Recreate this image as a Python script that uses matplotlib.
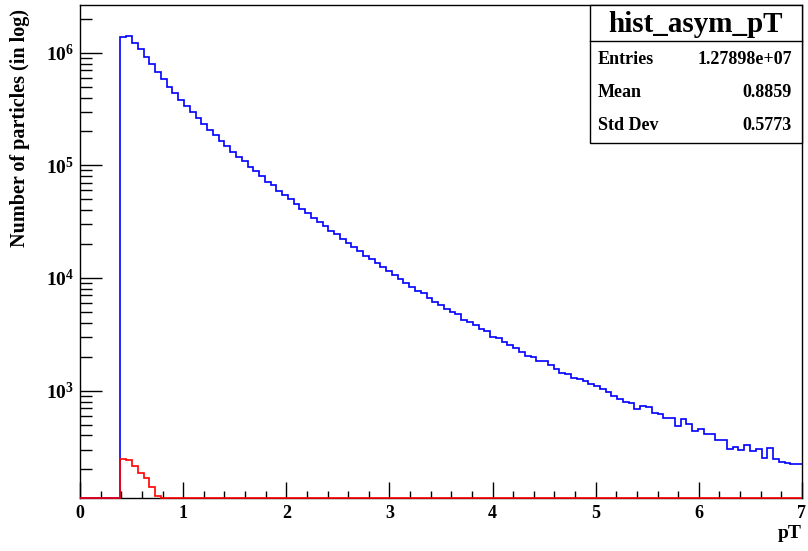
import matplotlib

matplotlib.use("Agg")
import matplotlib.pyplot as plt  # noqa: E402
import numpy as np  # noqa: E402
from matplotlib.patches import Rectangle  # noqa: E402
from matplotlib.ticker import LogLocator, MultipleLocator, NullFormatter  # noqa: E402

# histogram binning: 125 bins over 0..7, filled bins start at bin 7
N_BINS = 125
X_RANGE = (0.0, 7.0)
FIRST_BIN = 7

# bin contents (log y)
blue_counts = [
    1369000, 1407000, 1228000, 1079000, 922000, 788000, 678000, 584000, 499000, 442000,
    383000, 336000, 295000, 261000, 231000, 206000, 186000, 165000, 148000, 132000,
    119000, 110000, 97200, 89600, 80400, 71500, 66800, 59500, 54500, 49900,
    45300, 40900, 37500, 34300, 31600, 28900, 26300, 24400, 22000, 20300,
    18700, 17400, 15600, 14600, 13700, 12400, 11500, 10600, 9780, 8950,
    8360, 7700, 7300, 6580, 6150, 5750, 5260, 5030,
    4780, 4230, 4030, 3820, 3520, 3380, 3010, 2950, 2720, 2540,
    2400, 2210, 2030, 2000, 1830, 1830, 1690, 1550, 1440, 1400,
    1300, 1265, 1214, 1134, 1104, 1024, 963, 894, 835, 785,
    769, 685, 729, 709, 636, 618, 574, 574, 487, 554,
    504, 437, 452, 408, 408, 363, 363, 302, 317, 296,
    328, 290, 302, 250, 310, 245, 233, 229, 221, 221,
]
red_counts = [245, 240, 214, 186, 166, 140, 116]

stats_title = "hist_asym_pT"
stats_labels = ["Entries", "Mean", "Std Dev"]
stats_values = ["1.27898e+07", "0.8859", "0.5773"]

Y_MIN, Y_MAX = 112, 2.65e6

plt.rcParams["font.family"] = ["Liberation Serif", "DejaVu Serif"]
plt.rcParams["font.weight"] = "bold"
plt.rcParams["mathtext.fontset"] = "custom"
plt.rcParams["mathtext.rm"] = "Liberation Serif:bold"
plt.rcParams["mathtext.bf"] = "Liberation Serif:bold"
plt.rcParams["mathtext.it"] = "Liberation Serif:bold:italic"


def full_hist(counts):
    h = np.zeros(N_BINS)
    h[FIRST_BIN:FIRST_BIN + len(counts)] = counts
    # ROOT draws empty bins along the bottom of the frame
    return np.maximum(h, Y_MIN)


edges = np.linspace(X_RANGE[0], X_RANGE[1], N_BINS + 1)

W, H = 808, 551
fig = plt.figure(figsize=(W / 100, H / 100), dpi=100)
ax = fig.add_axes([80 / W, 1 - 497.7 / H, 722 / W, 492.7 / H])

ax.stairs(full_hist(blue_counts), edges, baseline=None, color="#0000ff",
          linewidth=1.2, clip_on=False, zorder=3)
ax.stairs(full_hist(red_counts), edges, baseline=None, color="#ff0000",
          linewidth=1.2, clip_on=False, zorder=4)

ax.set_yscale("log")
ax.set_xlim(*X_RANGE)
ax.set_ylim(Y_MIN, Y_MAX)

ax.xaxis.set_major_locator(MultipleLocator(1))
ax.xaxis.set_minor_locator(MultipleLocator(0.2))
ax.yaxis.set_major_locator(LogLocator(base=10))
ax.yaxis.set_minor_locator(LogLocator(base=10, subs=np.arange(2, 10)))
ax.yaxis.set_minor_formatter(NullFormatter())

ax.tick_params(axis="x", which="both", direction="in", top=False, width=1.0,
               labelsize=13, pad=5)
ax.tick_params(axis="x", which="major", length=11.3)
ax.tick_params(axis="x", which="minor", length=5.3)
ax.tick_params(axis="y", which="both", direction="in", right=False, width=1.0,
               labelsize=14, pad=4)
ax.tick_params(axis="y", which="major", length=15.6)
ax.tick_params(axis="y", which="minor", length=8.4)
for s in ax.spines.values():
    s.set_linewidth(1.0)

fig.text(20 / W, 1 - 9 / H, "Number of particles (in log)", rotation=90,
         ha="center", va="top", fontsize=14.5, fontweight="bold")
fig.text(802 / W, 1 - 538 / H, "pT", ha="right", va="baseline",
         fontsize=14, fontweight="bold")

# stats box
bx0, bx1, by0, by1, bsep = 590, 802, 5, 143, 41
fig.patches.append(Rectangle((bx0 / W, 1 - by1 / H), (bx1 - bx0) / W, (by1 - by0) / H,
                             transform=fig.transFigure, facecolor="white",
                             edgecolor="black", linewidth=1.0, zorder=5))
fig.add_artist(plt.Line2D([bx0 / W, bx1 / W], [1 - bsep / H, 1 - bsep / H],
                          transform=fig.transFigure, color="black", linewidth=1.0, zorder=6))
fig.text((bx0 + bx1) / 2 / W, 1 - 32 / H, stats_title, ha="center", va="baseline",
         fontsize=21, fontweight="bold", zorder=7)
for k, (lab, val) in enumerate(zip(stats_labels, stats_values)):
    yb = 1 - (63.5 + 33.3 * k) / H
    fig.text(598 / W, yb, lab, ha="left", va="baseline", fontsize=13,
             fontweight="bold", zorder=7)
    fig.text(792 / W, yb, val, ha="right", va="baseline", fontsize=13,
             fontweight="bold", zorder=7)

fig.savefig("out.png", dpi=100)
